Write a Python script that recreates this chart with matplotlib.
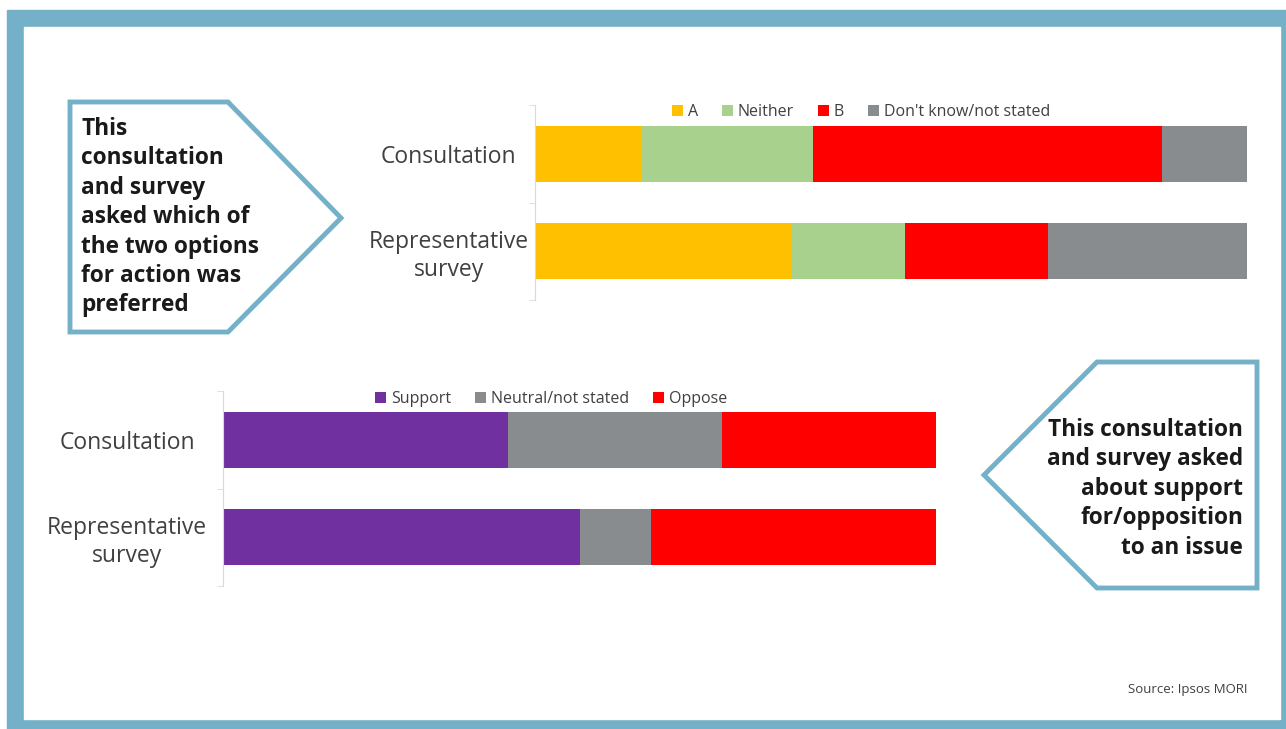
import numpy as np
import matplotlib.pyplot as plt
from matplotlib.patches import Rectangle, Polygon

plt.rcParams['font.family'] = ['Open Sans', 'DejaVu Sans']

# --- data ---
groups = ['Consultation', 'Representative\nsurvey']

pref_labels = ['A', 'Neither', 'B', "Don't know/not stated"]
pref_colors = ['#FFC000', '#A9D18E', '#FF0000', '#898C8E']
pref_A = [15, 36]
pref_neither = [24, 16]
pref_B = [49, 20]
pref_dk = [12, 28]

opin_labels = ['Support', 'Neutral/not stated', 'Oppose']
opin_colors = ['#7030A0', '#898C8E', '#FF0000']
opin_support = [40, 50]
opin_neutral = [30, 10]
opin_oppose = [30, 40]

W, H = 1286, 729
frame_col = '#74B1C8'
text_col = '#404040'

fig = plt.figure(figsize=(W / 100, H / 100), dpi=100)

# background layer in pixel coordinates
bg = fig.add_axes([0, 0, 1, 1], zorder=0)
bg.set_xlim(0, W)
bg.set_ylim(H, 0)
bg.axis('off')
bg.add_patch(Rectangle((7, 10), W - 7, H - 10, color=frame_col))
bg.add_patch(Rectangle((24, 27), 1280 - 24, 719 - 27, color='white'))

# callout pointing right
left_pts = [(70, 102), (228, 102), (341, 218), (228, 332), (70, 332)]
bg.add_patch(Polygon(left_pts, closed=True, fc='white', ec=frame_col, lw=3.5, joinstyle='miter'))
bg.text(81, 117, "This\nconsultation\nand survey\nasked which of\nthe two options\nfor action was\npreferred",
        ha='left', va='top', fontsize=16.3, fontweight='bold', color='#1A1A1A', linespacing=1.3)

# callout pointing left
right_pts = [(1097, 362), (1257, 362), (1257, 588), (1097, 588), (984, 475)]
bg.add_patch(Polygon(right_pts, closed=True, fc='white', ec=frame_col, lw=3.5, joinstyle='miter'))
bg.text(1243, 418, "This consultation\nand survey asked\nabout support\nfor/opposition\nto an issue",
        ha='right', va='top', fontsize=16.3, fontweight='bold', color='#1A1A1A', linespacing=1.3)

bg.text(1247, 690, 'Source: Ipsos MORI', ha='right', va='center', fontsize=9.5, color=text_col)


def stacked(ax, series, labels, colors, legend_xy, label_pad):
    y = np.arange(len(groups))
    left = np.zeros(len(groups))
    for vals, lab, col in zip(series, labels, colors):
        ax.barh(y, vals, left=left, height=0.575, color=col, label=lab)
        left += np.array(vals)
    ax.set_xlim(0, 100)
    ax.set_ylim(1.5, -0.5)
    ax.set_facecolor('none')
    for s in ['top', 'right', 'bottom']:
        ax.spines[s].set_visible(False)
    ax.spines['left'].set_color('#D9D9D9')
    ax.xaxis.set_visible(False)
    ax.set_yticks(y)
    ax.set_yticklabels(groups, fontsize=16.5, color=text_col, linespacing=1.2, ha='center')
    ax.tick_params(axis='y', which='major', length=0, pad=label_pad)
    ax.set_yticks([-0.5, 0.5, 1.5], minor=True)
    ax.tick_params(axis='y', which='minor', length=4, color='#D9D9D9')
    ax.legend(loc='center', bbox_to_anchor=legend_xy, bbox_transform=fig.transFigure,
              ncol=len(labels), frameon=False, fontsize=11.5, handlelength=0.7, handleheight=0.7,
              handletextpad=0.3, columnspacing=1.5, labelcolor=text_col)


ax1 = fig.add_axes([535 / W, 1 - 300 / H, 712 / W, 195 / H], zorder=1)
stacked(ax1, [pref_A, pref_neither, pref_B, pref_dk], pref_labels, pref_colors,
        (861 / W, 1 - 112 / H), 62)

ax2 = fig.add_axes([223 / W, 1 - 586 / H, 713 / W, 195 / H], zorder=1)
stacked(ax2, [opin_support, opin_neutral, opin_oppose], opin_labels, opin_colors,
        (551 / W, 1 - 399 / H), 69)

fig.savefig('out.png', dpi=100)
